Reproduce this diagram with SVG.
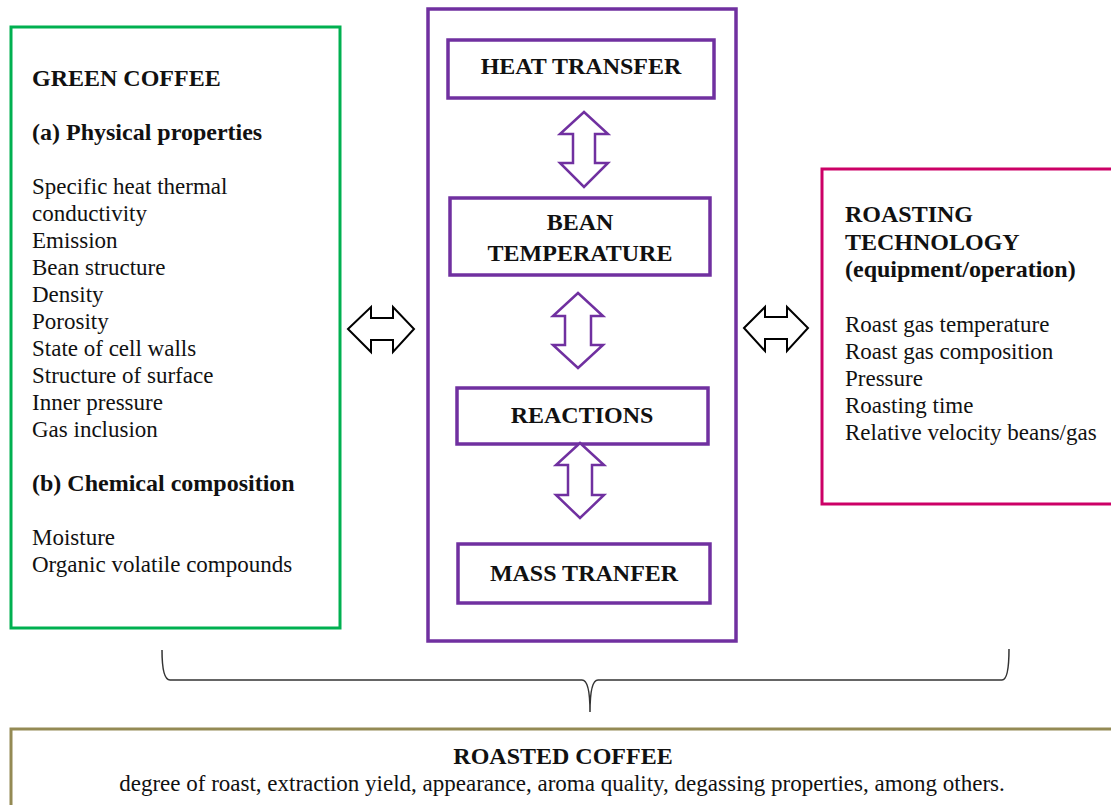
<svg xmlns="http://www.w3.org/2000/svg" width="1111" height="805" viewBox="0 0 1111 805">
<style>
text{font-family:"Liberation Serif","Times New Roman",serif;fill:#111;font-size:23px}
.b{font-weight:bold;font-size:24px}
.c{text-anchor:middle}
.pbox{fill:#fff;stroke:#7030a0;stroke-width:3.5}
.varr{fill:#fff;stroke:#7030a0;stroke-width:2.5;stroke-linejoin:miter}
.harr{fill:#fff;stroke:#000;stroke-width:2;stroke-linejoin:miter}
</style>
<rect width="1111" height="805" fill="#fff"/>
<g id="green-coffee">
<rect x="11" y="27" width="329" height="601" fill="#fff" stroke="#00b050" stroke-width="3"/>
<text x="32" y="86" class="b">GREEN COFFEE</text>
<text x="32" y="140" class="b">(a) Physical properties</text>
<text x="32" y="194">Specific heat thermal</text>
<text x="32" y="221">conductivity</text>
<text x="32" y="248">Emission</text>
<text x="32" y="275">Bean structure</text>
<text x="32" y="302">Density</text>
<text x="32" y="329">Porosity</text>
<text x="32" y="356">State of cell walls</text>
<text x="32" y="383">Structure of surface</text>
<text x="32" y="410">Inner pressure</text>
<text x="32" y="437">Gas inclusion</text>
<text x="32" y="491" class="b">(b) Chemical composition</text>
<text x="32" y="545">Moisture</text>
<text x="32" y="572">Organic volatile compounds</text>
</g>
<g id="process">
<rect x="428" y="9" width="308" height="632" class="pbox" stroke-width="3"/>
</g>
<g id="heat-transfer">
<rect x="448" y="40" width="266" height="58" class="pbox"/>
<text x="581" y="74" class="b c">HEAT TRANSFER</text>
</g>
<g id="bean-temperature">
<rect x="450" y="198" width="260" height="77" class="pbox"/>
<text x="580" y="230" class="b c">BEAN</text>
<text x="580" y="261" class="b c">TEMPERATURE</text>
</g>
<g id="reactions">
<rect x="457" y="388" width="251" height="56" class="pbox"/>
<text x="582" y="423" class="b c">REACTIONS</text>
</g>
<g id="mass-transfer">
<rect x="458" y="544" width="252" height="59" class="pbox"/>
<text x="584" y="581" class="b c">MASS TRANFER</text>
</g>
<g id="roasting-technology">
<rect x="822" y="169" width="300" height="335" fill="#fff" stroke="#cc0066" stroke-width="3"/>
<text x="845" y="222" class="b">ROASTING</text>
<text x="845" y="250" class="b">TECHNOLOGY</text>
<text x="845" y="277" class="b">(equipment/operation)</text>
<text x="845" y="332">Roast gas temperature</text>
<text x="845" y="359">Roast gas composition</text>
<text x="845" y="386">Pressure</text>
<text x="845" y="413">Roasting time</text>
<text x="845" y="440">Relative velocity beans/gas</text>
</g>
<g id="roasted-coffee">
<rect x="11" y="729" width="1110" height="90" fill="#fff" stroke="#948a54" stroke-width="3"/>
<text x="563" y="764" class="b c">ROASTED COFFEE</text>
<text x="562" y="791" class="c">degree of roast, extraction yield, appearance, aroma quality, degassing properties, among others.</text>
</g>
<g id="connectors">
<path class="varr" d="M584,112 L608,134 L595,134 L595,163 L608,163 L584,187 L560,163 L573,163 L573,134 L560,134 Z"/>
<path class="varr" d="M578,293 L603,316 L591,316 L591,345 L603,345 L578,368 L553,345 L565,345 L565,316 L553,316 Z"/>
<path class="varr" d="M580,443 L604,465 L592,465 L592,495 L604,495 L580,518 L556,495 L568,495 L568,465 L556,465 Z"/>
<path class="harr" d="M348,329 L371,307 L371,318 L393,318 L393,307 L414,329 L393,352 L393,340 L371,340 L371,352 Z"/>
<path class="harr" d="M744,328 L765,307 L765,317 L787,317 L787,307 L808,328 L787,351 L787,339 L765,339 L765,351 Z"/>
<path d="M162,650 Q162,680 170,680 L582,680 Q590,680 590,712 Q590,680 598,680 L1002,680 Q1009,680 1009,649" fill="none" stroke="#333" stroke-width="1.5"/>
</g>
</svg>
